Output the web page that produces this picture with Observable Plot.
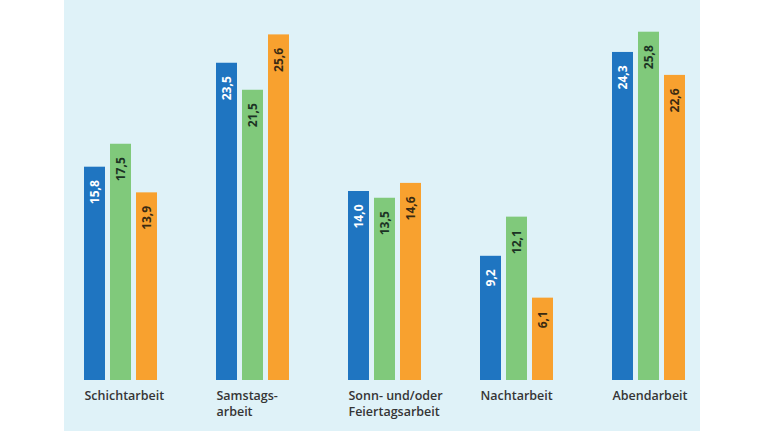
<!DOCTYPE html>
<html>
<head>
<meta charset="utf-8">
<script src="https://cdn.jsdelivr.net/npm/d3@7"></script>
<script src="https://cdn.jsdelivr.net/npm/@observablehq/plot@0.6"></script>
<style>
  html, body { margin: 0; padding: 0; background: #ffffff; }
  #chart {
    width: 765px; height: 431px; overflow: hidden;
    background: linear-gradient(to right, #ffffff 0px, #ffffff 64px, #dff2f8 64px, #dff2f8 700px, #ffffff 700px);
  }
  #chart svg { display: block; background: transparent; }
</style>
</head>
<body>
<div id="chart"></div>
<script>
const categories = ["Schichtarbeit", "Samstagsarbeit", "Sonn- und/oder Feiertagsarbeit", "Nachtarbeit", "Abendarbeit"];
const categoryLabels = ["Schichtarbeit", "Samstags-\narbeit", "Sonn- und/oder\nFeiertagsarbeit", "Nachtarbeit", "Abendarbeit"];
const seriesNames = ["A", "B", "C"];
const valuesA = [15.8, 23.5, 14.0, 9.2, 24.3];
const valuesB = [17.5, 21.5, 13.5, 12.1, 25.8];
const valuesC = [13.9, 25.6, 14.6, 6.1, 22.6];
const seriesColors = ["#1f75c1", "#80c97b", "#f8a12f"];
const labelColors = ["#ffffff", "#1c3324", "#3a2a12"];

const seriesValues = [valuesA, valuesB, valuesC];
const rows = [];
categories.forEach((c, i) => {
  seriesNames.forEach((s, j) => {
    rows.push({cat: c, label: categoryLabels[i], s, v: seriesValues[j][i]});
  });
});
const fmt = v => v.toFixed(1).replace(".", ",");

const plot = Plot.plot({
  width: 765,
  height: 431,
  marginLeft: 84,
  marginRight: 80,
  marginTop: 2,
  marginBottom: 51,
  style: {background: "transparent"},
  facet: {data: rows, x: "cat"},
  fx: {domain: categories, paddingInner: 59 / 132, paddingOuter: 0, axis: null, label: null},
  x: {domain: seriesNames, paddingInner: 5 / 26, paddingOuter: 0, axis: null},
  y: {domain: [0, 28], axis: null},
  color: {domain: seriesNames, range: seriesColors},
  marks: [
    Plot.barY(rows, {x: "s", y: "v", fill: "s"}),
    Plot.text(rows, {
      x: "s", y: "v", text: d => fmt(d.v), rotate: -90,
      textAnchor: "end", lineAnchor: "middle", dy: 13,
      fill: d => labelColors[seriesNames.indexOf(d.s)],
      fontSize: 12, fontWeight: 700, fontFamily: "Open Sans"
    }),
    Plot.text(rows, {
      filter: d => d.s === seriesNames[0],
      text: "label", frameAnchor: "bottom-left", textAnchor: "start",
      lineAnchor: "top", dy: 8, lineHeight: 1.28,
      fill: "#353535", fontSize: 12.5, fontWeight: 600, fontFamily: "Open Sans"
    })
  ]
});
document.getElementById("chart").appendChild(plot);
</script>
</body>
</html>
